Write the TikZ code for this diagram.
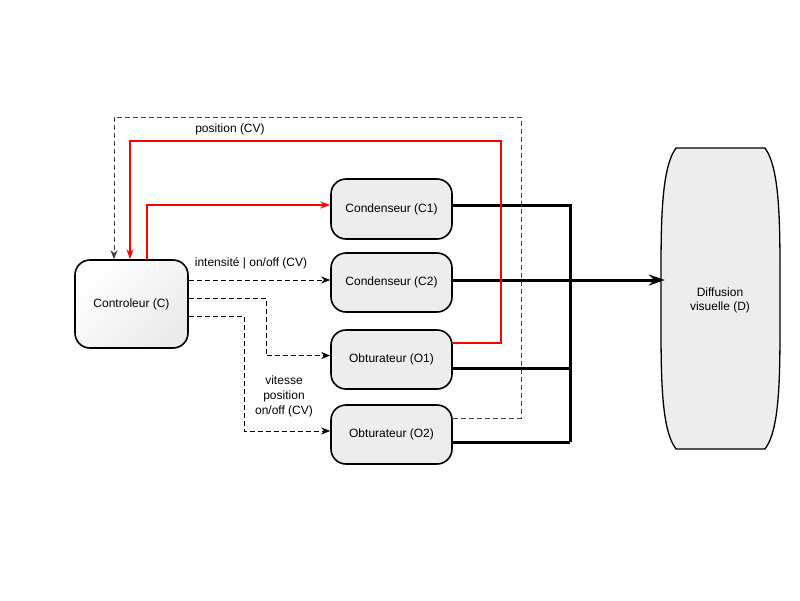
\documentclass[tikz,border=0pt]{standalone}
\usepackage{fontspec}
\setmainfont{Liberation Sans}
\usetikzlibrary{arrows.meta,calc}
\definecolor{lred}{RGB}{255,0,0}
\tikzset{
  box/.style={draw=black,line width=1.6pt,rounded corners=15pt,fill=black!7,inner sep=0pt,align=center,font=\fontsize{12}{14}\selectfont},
  lbl/.style={font=\fontsize{12}{15}\selectfont,align=center,inner sep=0pt},
  dsh/.style={line width=1pt,dash pattern=on 5pt off 3pt,-{Stealth[length=9pt,width=7pt]}},
  redl/.style={line width=1.2pt,draw=lred,-{Stealth[length=10pt,width=7pt,color=lred]}},
  thick3/.style={line width=3pt,draw=black},
}
\begin{document}
\begin{tikzpicture}[x=1pt,y=-1pt]
\useasboundingbox (0,0) rectangle (800,600);
% nodes
\node[box,minimum width=121pt,minimum height=60pt] (C1) at (391.5,209) {Condenseur (C1)};
\node[box,minimum width=121pt,minimum height=59pt] (C2) at (391.5,282.5) {Condenseur (C2)};
\node[box,minimum width=121pt,minimum height=59pt] (O1) at (391.5,359.5) {Obturateur (O1)};
\node[box,minimum width=121pt,minimum height=59pt] (O2) at (391.5,434.5) {Obturateur (O2)};
\node[minimum width=119pt,minimum height=301pt,inner sep=0pt] (D) at (720.5,298.5) {};
\fill[black!7] (676,148) -- (765,148) .. controls (781,170) and (780,230) .. (780,298.5) .. controls (780,370) and (781,428) .. (765,449) -- (676,449) .. controls (660,428) and (661,370) .. (661,298.5) .. controls (661,230) and (660,170) .. (676,148) -- cycle;
\draw[line width=1.3pt] (676,148) -- (765,148) .. controls (781,170) and (780,230) .. (780,298.5) .. controls (780,370) and (781,428) .. (765,449) -- (676,449) .. controls (660,428) and (661,370) .. (661,298.5) .. controls (661,230) and (660,170) .. (676,148) -- cycle;
\node[lbl,font=\fontsize{12}{14}\selectfont] (Dt) at (720,300) {Diffusion\\visuelle (D)};
% ports
\coordinate (jx) at (570,0);
\coordinate (c1o) at ([yshift=4pt]C1.east);
\coordinate (c1i) at ([yshift=4pt]C1.west);
\coordinate (c2o) at ([yshift=2.5pt]C2.east);
\coordinate (o1o) at ([yshift=-8.5pt]O1.east);
\coordinate (o1r) at ([yshift=16.5pt]O1.east);
\coordinate (o1i) at ([yshift=4pt]O1.west);
\coordinate (o2o) at ([yshift=-7.5pt]O2.east);
\coordinate (o2g) at ([yshift=16.5pt]O2.east);
\coordinate (o2i) at ([yshift=3.5pt]O2.west);
% thick lines to D
\draw[thick3] (c1o) -| (jx |- o2o);
\draw[thick3] (o1o) -- (jx |- o1o);
\draw[thick3] (o2o) -- (jx |- o2o);
\draw[thick3,-{Stealth[length=16pt,width=11pt]}] (c2o) -- ([xshift=4pt]c2o -| D.west);
% controller
\node[box,minimum width=113pt,minimum height=88pt,fill=none,left color=white,right color=black!8,shading angle=45] (C) at (131.5,304) {Controleur (C)};
\coordinate (ca) at ([yshift=24pt]C.east);
\coordinate (cb) at ([yshift=6pt]C.east);
\coordinate (cc) at ([yshift=-12pt]C.east);
\coordinate (ct1) at ([xshift=-17.5pt]C.north);
\coordinate (ct2) at ([xshift=-1.5pt]C.north);
\coordinate (ct3) at ([xshift=15.5pt]C.north);
% gray dashed O2 -> C
\coordinate (g1) at (521,117);
\draw[dsh,draw=black!75,-{Stealth[length=9pt,width=7pt,color=black!75]}] (o2g) -| (g1) -| (ct1);
% red feedback O1 -> C
\coordinate (r1) at (501,141);
\draw[redl] (o1r) -| (r1) -| (ct2);
% red C -> C1
\draw[redl] (ct3) |- (c1i);
% dashed C -> C2, O1, O2
\coordinate (b1) at (266,0);
\coordinate (b2) at (244,0);
\draw[dsh,draw=black] (ca) -- (ca -| C2.west);
\draw[dsh,draw=black] (cb) -| (b1 |- o1i) -- (o1i);
\draw[dsh,draw=black] (cc) -| (b2 |- o2i) -- (o2i);
% labels
\node[lbl] (L1) at (230,129) {position (CV)};
\node[lbl] (L2) at (251,263) {intensité | on/off (CV)};
\node[lbl] (L3) at (284,396) {vitesse\\position\\on/off (CV)};
\end{tikzpicture}
\end{document}
